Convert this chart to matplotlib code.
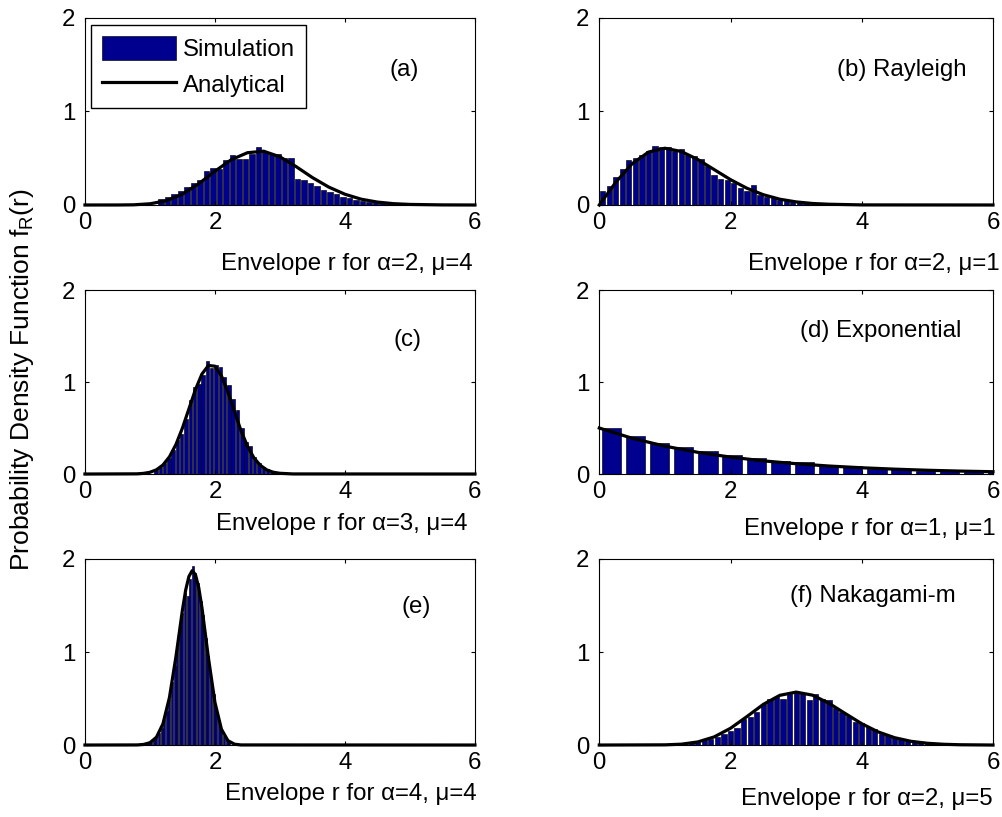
import numpy as np
import matplotlib
matplotlib.use('Agg')
import matplotlib.pyplot as plt

plt.rcParams['font.family'] = ['Liberation Sans', 'DejaVu Sans']
plt.rcParams['mathtext.fontset'] = 'custom'
plt.rcParams['mathtext.rm'] = 'Liberation Sans'
plt.rcParams['mathtext.it'] = 'Liberation Sans:italic'

FS = 17.3
NAVY = '#00008f'

# ---- panel (a): alpha=2, mu=4 ----
sim_a = [0.06, 0.09, 0.12, 0.15, 0.19, 0.23, 0.27, 0.36, 0.40, 0.39, 0.48, 0.53,
         0.49, 0.49, 0.55, 0.62, 0.57, 0.55, 0.54, 0.50, 0.50, 0.28, 0.27, 0.24,
         0.20, 0.16, 0.14, 0.12, 0.09, 0.07, 0.05, 0.04, 0.035, 0.04, 0.03, 0.02]
r_a = [0, 0.5, 0.75, 1.0, 1.25, 1.5, 1.75, 2.0, 2.25, 2.5, 2.75, 3.0, 3.25, 3.5,
       3.75, 4.0, 4.25, 4.5, 4.75, 5.0, 5.5, 6.0]
pdf_a = [0, 0.0002, 0.002, 0.013, 0.045, 0.116, 0.227, 0.361, 0.484, 0.559, 0.575,
         0.515, 0.410, 0.293, 0.192, 0.115, 0.062, 0.031, 0.014, 0.006, 0.001, 0]

# ---- panel (b): alpha=2, mu=1 (Rayleigh) ----
sim_b = [0.15, 0.20, 0.30, 0.39, 0.48, 0.50, 0.53, 0.58, 0.63, 0.62, 0.62, 0.58,
         0.60, 0.53, 0.52, 0.49, 0.42, 0.32, 0.28, 0.27, 0.23, 0.18, 0.15, 0.21,
         0.11, 0.09, 0.07, 0.05, 0.04, 0.035, 0.03, 0.02]
r_b = [0, 0.25, 0.5, 0.75, 1.0, 1.25, 1.5, 1.75, 2.0, 2.25, 2.5, 2.75, 3.0, 3.25,
       3.5, 4.0, 6.0]
pdf_b = [0, 0.242, 0.441, 0.566, 0.607, 0.572, 0.487, 0.379, 0.271, 0.179, 0.110,
         0.062, 0.033, 0.016, 0.008, 0.001, 0]

# ---- panel (c): alpha=3, mu=4 ----
sim_c = [0.04, 0.075, 0.12, 0.17, 0.26, 0.37, 0.43, 0.60, 0.80, 0.95, 0.98, 1.08,
         1.23, 1.15, 1.18, 1.16, 1.05, 0.97, 0.82, 0.70, 0.50, 0.35, 0.30, 0.19,
         0.12, 0.08, 0.05, 0.03, 0.015]
r_c = [0, 0.8, 0.9, 1.0, 1.1, 1.2, 1.3, 1.4, 1.5, 1.6, 1.7, 1.8, 1.9, 2.0, 2.1,
       2.2, 2.3, 2.4, 2.5, 2.6, 2.7, 2.8, 2.9, 3.0, 3.2, 6.0]
pdf_c = [0, 0.002, 0.007, 0.019, 0.046, 0.098, 0.187, 0.321, 0.500, 0.709, 0.918,
         1.087, 1.180, 1.172, 1.067, 0.890, 0.679, 0.474, 0.302, 0.175, 0.093,
         0.044, 0.019, 0.008, 0.001, 0]

# ---- panel (d): alpha=1, mu=1 (Exponential) ----
sim_d = [0.50, 0.41, 0.34, 0.29, 0.25, 0.21, 0.17, 0.145, 0.13, 0.10, 0.09, 0.06,
         0.055, 0.036, 0.03, 0.025, 0.02]
r_d = [0, 0.5, 1.0, 1.5, 2.0, 2.5, 3.0, 3.5, 4.0, 4.5, 5.0, 5.5, 6.0]
pdf_d = [0.500, 0.389, 0.303, 0.236, 0.184, 0.143, 0.112, 0.087, 0.068, 0.053,
         0.041, 0.032, 0.025]

# ---- panel (e): alpha=4, mu=4 ----
sim_e = [0.012, 0.02, 0.03, 0.05, 0.09, 0.13, 0.18, 0.28, 0.37, 0.50, 0.68, 0.85,
         1.05, 1.28, 1.42, 1.63, 1.60, 1.78, 1.93, 1.85, 1.74, 1.55, 1.40, 1.15,
         0.96, 0.70, 0.55, 0.38, 0.27, 0.16, 0.10, 0.06, 0.03]
r_e = [0, 0.8, 0.9, 1.0, 1.1, 1.2, 1.3, 1.4, 1.5, 1.55, 1.6, 1.65, 1.7, 1.75, 1.8,
       1.9, 2.0, 2.1, 2.2, 2.3, 2.4, 6.0]
pdf_e = [0, 0.001, 0.006, 0.025, 0.084, 0.228, 0.511, 0.950, 1.452, 1.667, 1.813,
         1.875, 1.832, 1.695, 1.476, 0.936, 0.458, 0.170, 0.047, 0.009, 0.001, 0]

# ---- panel (f): alpha=2, mu=5 (Nakagami-m) ----
sim_f = [0.02, 0.03, 0.05, 0.07, 0.09, 0.12, 0.15, 0.18, 0.28, 0.30, 0.35, 0.44,
         0.50, 0.52, 0.50, 0.55, 0.56, 0.56, 0.48, 0.55, 0.50, 0.48, 0.40, 0.36,
         0.31, 0.25, 0.24, 0.19, 0.17, 0.12, 0.11, 0.09, 0.06, 0.045, 0.035, 0.03,
         0.02]
r_f = [0, 1.0, 1.25, 1.5, 1.75, 2.0, 2.25, 2.5, 2.75, 3.0, 3.25, 3.5, 3.75, 4.0,
       4.25, 4.5, 4.75, 5.0, 5.25, 5.5, 6.0]
pdf_f = [0, 0.002, 0.009, 0.033, 0.087, 0.180, 0.306, 0.437, 0.534, 0.569, 0.536,
         0.449, 0.338, 0.229, 0.141, 0.079, 0.040, 0.019, 0.008, 0.003, 0]

xlabels = ['Envelope r for \u03b1=2, \u03bc=4', 'Envelope r for \u03b1=2, \u03bc=1',
           'Envelope r for \u03b1=3, \u03bc=4', 'Envelope r for \u03b1=1, \u03bc=1',
           'Envelope r for \u03b1=4, \u03bc=4', 'Envelope r for \u03b1=2, \u03bc=5']
tags = ['(a)', '(b) Rayleigh', '(c)', '(d) Exponential', '(e)', '(f) Nakagami-m']

# bin start, bin width for each histogram
bins = [(1.12, 0.1), (0.0, 0.1), (1.06, 0.066), (0.0, 0.368), (0.92, 0.04), (1.35, 0.1)]
sims = [sim_a, sim_b, sim_c, sim_d, sim_e, sim_f]
curves = [(r_a, pdf_a), (r_b, pdf_b), (r_c, pdf_c), (r_d, pdf_d), (r_e, pdf_e), (r_f, pdf_f)]

# layout (figure fractions) and text placement in axes coords
rects = [[0.0847, 0.7491, 0.3888, 0.2289], [0.5975, 0.7491, 0.3925, 0.2289],
         [0.0847, 0.4198, 0.3888, 0.2252], [0.5975, 0.4198, 0.3925, 0.2252],
         [0.0847, 0.0881, 0.3888, 0.2277], [0.5975, 0.0881, 0.3925, 0.2277]]
tag_pos = [(0.818, 0.72), (0.768, 0.72), (0.828, 0.728), (0.716, 0.78), (0.849, 0.744), (0.695, 0.80)]
xlab_pos = [(0.995, -0.35), (1.017, -0.35), (0.982, -0.304), (1.008, -0.332), (1.005, -0.296), (1.0, -0.323)]

fig = plt.figure(figsize=(10.03, 8.17), dpi=100)

for i in range(6):
    ax = fig.add_axes(rects[i])
    start, w = bins[i]
    centers = start + w / 2 + w * np.arange(len(sims[i]))
    bars = ax.bar(centers, sims[i], width=0.8 * w, color=NAVY, edgecolor='k',
                  linewidth=0.45, label='Simulation')
    r, pdf = curves[i]
    line, = ax.plot(r, pdf, color='k', lw=2.3, clip_on=False, label='Analytical')
    ax.set_xlim(0, 6)
    ax.set_ylim(0, 2)
    ax.set_xticks([0, 2, 4, 6])
    ax.set_yticks([0, 1, 2])
    ax.tick_params(direction='in', top=True, right=True, length=3, width=0.8,
                   labelsize=FS)
    ax.tick_params(axis='x', pad=5)
    ax.tick_params(axis='y', pad=7)
    for s in ax.spines.values():
        s.set_linewidth(0.8)
    ax.text(tag_pos[i][0], tag_pos[i][1], tags[i], transform=ax.transAxes,
            ha='center', va='center', fontsize=FS)
    ax.text(xlab_pos[i][0], xlab_pos[i][1], xlabels[i], transform=ax.transAxes,
            ha='right', va='baseline', fontsize=FS)
    if i == 0:
        ax.legend([bars, line], ['Simulation', 'Analytical'], loc='upper left',
                  bbox_to_anchor=(0.015, 0.963), borderaxespad=0,
                  fontsize=FS, fancybox=False, edgecolor='k', framealpha=1,
                  handlelength=3.1, handleheight=1.2, handletextpad=0.3,
                  borderpad=0.45, labelspacing=0.45)

fig.text(0.022, 0.535, r'Probability Density Function f$_\mathrm{R}$(r)',
         rotation=90, ha='center', va='center', fontsize=19)

fig.savefig('out.png', dpi=100)
